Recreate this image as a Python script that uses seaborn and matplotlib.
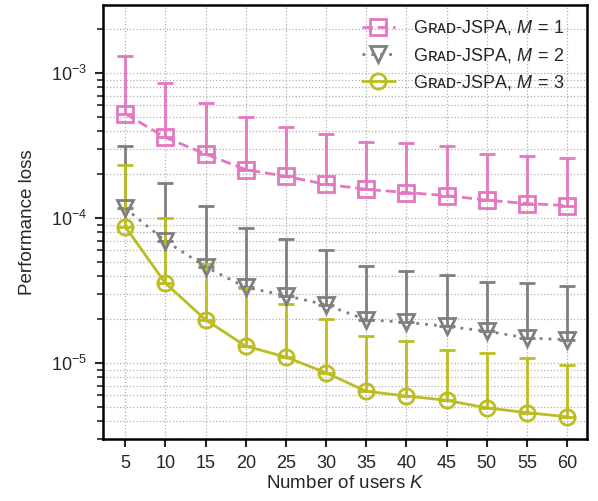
import numpy as np
import pandas as pd
import matplotlib
matplotlib.use("Agg")
import matplotlib.pyplot as plt
import seaborn as sns

# data
users = [5, 10, 15, 20, 25, 30, 35, 40, 45, 50, 55, 60]

loss_m1 = [5.25e-4, 3.6e-4, 2.77e-4, 2.16e-4, 1.94e-4, 1.71e-4, 1.58e-4, 1.5e-4, 1.43e-4, 1.33e-4, 1.26e-4, 1.22e-4]
upper_m1 = [1.32e-3, 8.6e-4, 6.2e-4, 4.96e-4, 4.27e-4, 3.83e-4, 3.37e-4, 3.3e-4, 3.16e-4, 2.75e-4, 2.7e-4, 2.58e-4]

loss_m2 = [1.17e-4, 6.97e-5, 4.62e-5, 3.33e-5, 2.92e-5, 2.52e-5, 1.99e-5, 1.91e-5, 1.79e-5, 1.66e-5, 1.49e-5, 1.45e-5]
upper_m2 = [3.16e-4, 1.75e-4, 1.21e-4, 8.6e-5, 7.2e-5, 6.04e-5, 4.69e-5, 4.33e-5, 4.06e-5, 3.64e-5, 3.55e-5, 3.38e-5]

loss_m3 = [8.75e-5, 3.56e-5, 1.99e-5, 1.31e-5, 1.1e-5, 8.57e-6, 6.38e-6, 5.93e-6, 5.53e-6, 4.91e-6, 4.55e-6, 4.26e-6]
upper_m3 = [2.32e-4, 1.0e-4, 4.81e-5, 3.27e-5, 2.55e-5, 2.01e-5, 1.53e-5, 1.41e-5, 1.24e-5, 1.18e-5, 1.08e-5, 9.73e-6]

labels = ["G\u0280\u1d00\u1d05-JSPA, $M\\,=\\,1$",
          "G\u0280\u1d00\u1d05-JSPA, $M\\,=\\,2$",
          "G\u0280\u1d00\u1d05-JSPA, $M\\,=\\,3$"]

sns.set_theme(style="ticks")
plt.rcParams['font.family'] = ['Liberation Sans', 'DejaVu Sans']
plt.rcParams['mathtext.fontset'] = 'custom'
plt.rcParams['mathtext.rm'] = 'Liberation Sans'
plt.rcParams['mathtext.it'] = 'Liberation Sans:italic'
plt.rcParams['mathtext.bf'] = 'Liberation Sans:bold'

fig = plt.figure(figsize=(5.98, 5.01), dpi=100)
ax = fig.add_axes([0.173, 0.124, 0.809, 0.866])

series = [
    (loss_m1, upper_m1, "#e377c2", "s", (0, (3.7, 1.8)), labels[0]),
    (loss_m2, upper_m2, "#7f7f7f", "v", (0, (1, 2.2)), labels[1]),
    (loss_m3, upper_m3, "#bcbd22", "o", "-", labels[2]),
]

handles = []
for loss, upper, color, mk, ls, lab in series:
    df = pd.DataFrame({"K": users, "loss": loss})
    sns.lineplot(data=df, x="K", y="loss", ax=ax, color=color, marker=mk,
                 linestyle=ls, linewidth=2, markersize=11, markerfacecolor="none",
                 markeredgecolor=color, markeredgewidth=2, label=lab, zorder=3)
    handles.append(ax.lines[-1])
    err_hi = np.array(upper) - np.array(loss)
    ax.errorbar(users, loss, yerr=[np.zeros(len(loss)), err_hi], fmt="none",
                ecolor=color, elinewidth=2, capsize=6, capthick=2, zorder=2)

ax.set_yscale("log")
ax.set_ylim(3e-6, 2.95e-3)
ax.set_xlim(2.3, 62.5)
ax.set_xticks(users)
ax.grid(True, which="both", linestyle=":", color="#b0b0b0", linewidth=0.9)
ax.set_xlabel("Number of users $K$", fontsize=13.5, labelpad=2)
ax.set_ylabel("Performance loss", fontsize=13.5, labelpad=11)
ax.tick_params(axis="both", which="major", labelsize=13, width=1.5, length=6,
               direction="out", pad=5.5)
ax.tick_params(axis="y", which="minor", width=1.2, length=4, direction="out")
for sp in ax.spines.values():
    sp.set_linewidth(1.8)
    sp.set_color("black")

ax.legend(handles=handles, labels=labels, loc="upper right", frameon=False,
          bbox_to_anchor=(0.952, 0.969), borderaxespad=0, borderpad=0,
          fontsize=13, handlelength=1.8, handletextpad=1.0, labelspacing=0.45)

fig.savefig("out.png", dpi=100)
